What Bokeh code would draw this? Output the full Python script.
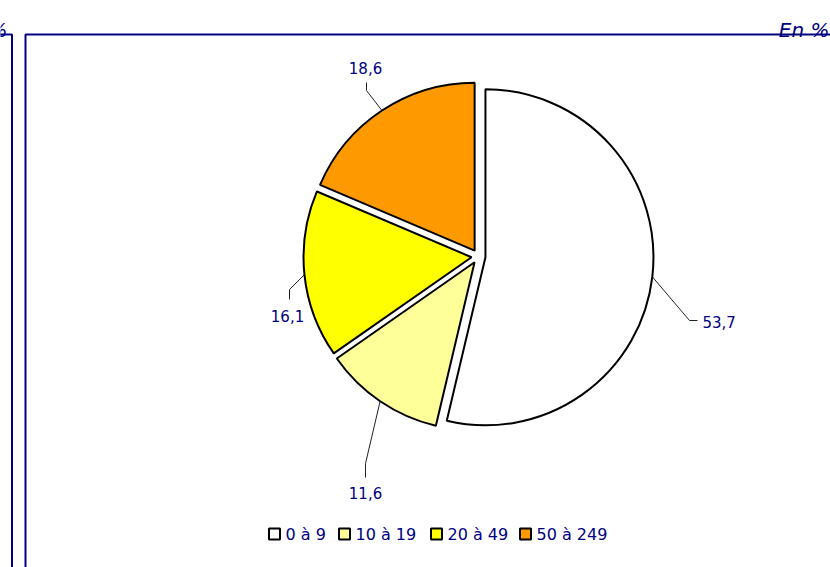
import math
from bokeh.plotting import figure
from bokeh.models import Range1d, ColumnDataSource
from bokeh.core.properties import value
from bokeh.embed import file_html
from bokeh.resources import INLINE

# ---- data ----
categories = ["0 à 9", "10 à 19", "20 à 49", "50 à 249"]
shares = [53.7, 11.6, 16.1, 18.6]
share_labels = ["53,7", "11,6", "16,1", "18,6"]
unit_label = "En %"
left_unit_label = "%"

# ---- styles ----
colors = ["#FFFFFF", "#FFFF99", "#FFFF00", "#FF9900"]
NAVY = "#000080"
FONT = "DejaVu Sans"

W, H = 830, 567


def sx(X):
    return X


def sy(Y):
    return H - Y


p = figure(width=W, height=H, x_range=Range1d(0, W), y_range=Range1d(0, H),
           output_backend="svg", toolbar_location=None, min_border=0,
           x_axis_location=None, y_axis_location=None)
p.grid.visible = False
p.outline_line_color = None
p.background_fill_color = "white"
p.border_fill_color = "white"

# ---- frame lines ----
p.multi_line(xs=[[sx(-5), sx(11.5), sx(11.5)], [sx(25), sx(25), sx(840)]],
             ys=[[sy(34), sy(34), sy(580)], [sy(580), sy(34), sy(34)]],
             line_color=NAVY, line_width=2)

p.text(x=[sx(829)], y=[sy(29)], text=[unit_label], text_align="right",
       text_baseline="alphabetic", text_font=value(FONT), text_font_size="20px",
       text_font_style="italic", text_color=NAVY)
p.text(x=[sx(7)], y=[sy(29)], text=[left_unit_label], text_align="right",
       text_baseline="alphabetic", text_font=value(FONT), text_font_size="20px",
       text_font_style="italic", text_color=NAVY)

# ---- pie ----
total = sum(shares)
cx, cy, R, EXP = sx(478), sy(256), 168, 7
starts, ends, xs, ys, mids = [], [], [], [], []
cum = 0.0
for v in shares:
    a1 = 90 - cum / total * 360
    cum += v
    a2 = 90 - cum / total * 360
    b = math.radians((a1 + a2) / 2)
    starts.append(math.radians(a2))
    ends.append(math.radians(a1))
    xs.append(cx + EXP * math.cos(b))
    ys.append(cy + EXP * math.sin(b))
    mids.append(b)

src = ColumnDataSource(dict(x=xs, y=ys, start=starts, end=ends, color=colors))
p.wedge(x="x", y="y", radius=R, start_angle="start", end_angle="end",
        fill_color="color", line_color="black", line_width=2, source=src)

# ---- leader lines & labels (layout, screen px) ----
leader_layout = [
    # elbow, tail, text pos, align
    ((689, 320), (697, 320), (702, 321), "left"),
    ((365, 463), (365, 477), (365, 492), "center"),
    ((289, 289), (289, 299), (287, 315), "center"),
    ((366, 90), (366, 82), (365, 67), "center"),
]
lx, ly = [], []
for i, (elbow, tail, tpos, align) in enumerate(leader_layout):
    b = mids[i]
    ax = cx + (EXP + R) * math.cos(b)
    ay = cy + (EXP + R) * math.sin(b)
    lx.append([ax, sx(elbow[0]), sx(tail[0])])
    ly.append([ay, sy(elbow[1]), sy(tail[1])])
    p.text(x=[sx(tpos[0])], y=[sy(tpos[1])], text=[share_labels[i]],
           text_align=align, text_baseline="middle", text_font=value(FONT),
           text_font_size="15px", text_color=NAVY)
p.multi_line(xs=lx, ys=ly, line_color="#222222", line_width=1)

# ---- legend ----
legend_x = [268, 338, 430, 519]
bx = [sx(X + 6) for X in legend_x]
by = [sy(533.5)] * len(legend_x)
p.rect(x=bx, y=by, width=11, height=11, fill_color=colors,
       line_color="black", line_width=2)
p.text(x=[sx(X + 17) for X in legend_x], y=[sy(534)] * len(legend_x),
       text=categories, text_align="left", text_baseline="middle",
       text_font=value(FONT), text_font_size="16px", text_color=NAVY)

open("out.html", "w").write(file_html(p, INLINE))
